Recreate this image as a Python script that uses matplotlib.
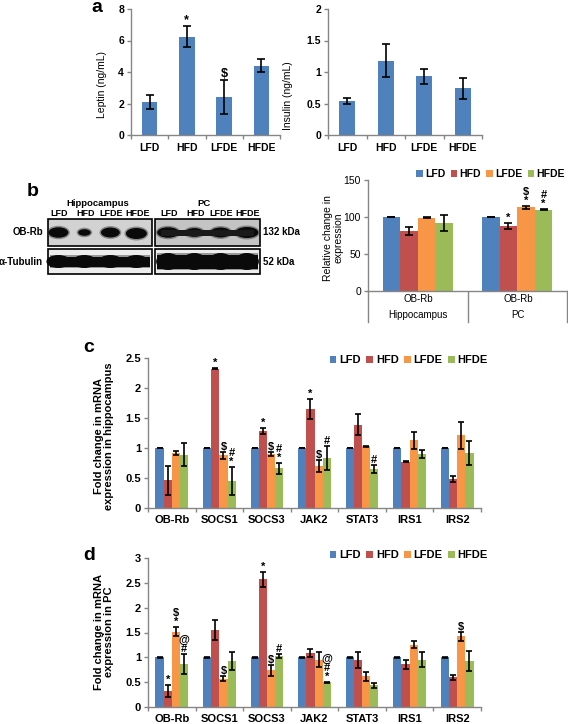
"""
Leptin / insulin levels, OB-Rb western blot and mRNA fold changes
(4-panel figure, a-d)
"""

import numpy as np
import matplotlib
matplotlib.use('Agg')
import matplotlib.pyplot as plt
from matplotlib.patches import Rectangle, Ellipse, Patch

plt.rcParams['font.family'] = ['Liberation Sans', 'DejaVu Sans']

W, H = 568, 724

groups = ['LFD', 'HFD', 'LFDE', 'HFDE']
colors = ['#4F81BD', '#C0504D', '#F79646', '#9BBB59']
axis_gray = '#868686'

# ---- panel a data
leptin = [2.1, 6.25, 2.4, 4.4]
leptin_err = [0.47, 0.68, 1.07, 0.40]
leptin_marks = ['', '*', '$', '']
insulin = [0.54, 1.18, 0.93, 0.74]
insulin_err = [0.05, 0.26, 0.115, 0.17]

# ---- panel b data (relative OB-Rb expression)
b_regions = ['Hippocampus', 'PC']
b_lfd = [100, 100]
b_lfd_err = [0.4, 0.4]
b_hfd = [81, 88]
b_hfd_err = [5, 4]
b_lfde = [99, 113]
b_lfde_err = [0.4, 2.5]
b_hfde = [92, 110]
b_hfde_err = [11, 1]
b_marks = [['', ''], ['', '*'], ['', '$\n*'], ['', '#\n*']]

# blot band strength per lane (relative size)
blot_hip_obrb = [0.95, 0.6, 0.9, 1.0]
blot_pc_obrb = [0.95, 0.8, 0.9, 1.0]

# ---- panel c data (hippocampus mRNA)
genes = ['OB-Rb', 'SOCS1', 'SOCS3', 'JAK2', 'STAT3', 'IRS1', 'IRS2']
c_lfd = [1, 1, 1, 1, 1, 1, 1]
c_lfd_err = [0.005] * 7
c_hfd = [0.46, 2.32, 1.29, 1.65, 1.39, 0.77, 0.49]
c_hfd_err = [0.24, 0.01, 0.05, 0.17, 0.18, 0.01, 0.05]
c_lfde = [0.92, 0.88, 0.90, 0.70, 1.03, 1.13, 1.21]
c_lfde_err = [0.03, 0.06, 0.03, 0.10, 0.01, 0.14, 0.23]
c_hfde = [0.89, 0.45, 0.66, 0.83, 0.65, 0.90, 0.92]
c_hfde_err = [0.19, 0.23, 0.09, 0.20, 0.07, 0.06, 0.20]
c_marks = [
    ['', '', '', '', '', '', ''],
    ['', '*', '*', '*', '', '', ''],
    ['', '$', '$', '$', '', '', ''],
    ['', '#\n*', '#\n*', '#', '#', '', ''],
]

# ---- panel d data (PC mRNA)
d_lfd = [1, 1, 1, 1, 1, 1, 1]
d_lfd_err = [0.005] * 7
d_hfd = [0.33, 1.55, 2.57, 1.08, 0.94, 0.86, 0.60]
d_hfd_err = [0.12, 0.21, 0.15, 0.08, 0.16, 0.09, 0.05]
d_lfde = [1.52, 0.57, 0.74, 0.95, 0.62, 1.25, 1.42]
d_lfde_err = [0.10, 0.05, 0.11, 0.15, 0.09, 0.07, 0.09]
d_hfde = [0.87, 0.93, 1.02, 0.50, 0.44, 0.95, 0.92]
d_hfde_err = [0.20, 0.18, 0.04, 0.01, 0.05, 0.15, 0.20]
d_marks = [
    ['', '', '', '', '', '', ''],
    ['*', '', '*', '', '', '', ''],
    ['$\n*', '$', '$', '', '', '', '$'],
    ['@\n#', '', '#', '@\n#\n*', '', '', ''],
]


fig = plt.figure(figsize=(W / 100, H / 100), dpi=100)

# full-figure canvas in pixel coordinates for blot and free text
canvas = fig.add_axes([0, 0, 1, 1], zorder=-1)
canvas.set_xlim(0, W)
canvas.set_ylim(H, 0)
canvas.axis('off')


def px_axes(x0, y0, x1, y1):
    return fig.add_axes([x0 / W, 1 - y1 / H, (x1 - x0) / W, (y1 - y0) / H])


def style_axes(ax, n, ymax, yticks, ylabels, fs=7.5):
    ax.set_xlim(0, n)
    ax.set_ylim(0, ymax)
    for s in ['top', 'right']:
        ax.spines[s].set_visible(False)
    for s in ['left', 'bottom']:
        ax.spines[s].set_color(axis_gray)
        ax.spines[s].set_linewidth(1.0)
    ax.set_yticks(yticks)
    ax.set_yticklabels(ylabels, fontsize=fs, fontweight='bold')
    ax.tick_params(axis='y', colors=axis_gray, length=3, width=1, labelcolor='black', pad=2)
    ax.set_xticks(np.arange(n + 1))
    ax.set_xticklabels([])
    ax.tick_params(axis='x', which='major', colors=axis_gray, length=3, width=1)


def put_marks(ax, xs, tops, marks, fs=8):
    for x, t, m in zip(xs, tops, marks):
        if m:
            ax.text(x, t, m, ha='center', va='bottom', fontsize=fs,
                    fontweight='bold', linespacing=0.85)


def add_legend(right_x, cy, fs=8):
    # anchored by its right edge, like the Excel legends
    handles = [Patch(facecolor=c, edgecolor='none') for c in colors]
    fig.legend(handles, groups, loc='center right', bbox_to_anchor=(right_x / W, 1 - cy / H),
               ncol=4, frameon=False, handlelength=0.6, handleheight=0.6,
               handletextpad=0.25, columnspacing=0.5, borderpad=0, borderaxespad=0,
               prop={'size': fs, 'weight': 'bold'})


# ================= panel a =================
for (x0, x1), vals, errs, ymax, ticks, tlabels, ylab, lab_xy in [
    ((131, 280), leptin, leptin_err, 8, [0, 2, 4, 6, 8], ['0', '2', '4', '6', '8'],
     'Leptin (ng/mL)', (102, 84)),
    ((328, 482), insulin, insulin_err, 2, [0, 0.5, 1, 1.5, 2], ['0', '0.5', '1', '1.5', '2'],
     'Insulin (ng/mL)', (288, 96)),
]:
    ax = px_axes(x0, 9, x1, 135)
    style_axes(ax, 4, ymax, ticks, tlabels, fs=7.5)
    xs = np.arange(4) + 0.5
    ax.bar(xs, vals, width=0.42, color='#4F81BD')
    ax.errorbar(xs, vals, yerr=errs, fmt='none', ecolor='black',
                elinewidth=1.2, capsize=3, capthick=1.2)
    ax.set_xticks(xs, minor=True)
    ax.set_xticklabels(groups, minor=True, fontsize=7.5, fontweight='bold')
    ax.tick_params(axis='x', which='minor', length=0, pad=6)
    canvas.text(lab_xy[0], lab_xy[1], ylab, rotation=90, ha='center', va='center', fontsize=7.5)
    if vals is leptin:
        put_marks(ax, xs, np.array(vals) + np.array(errs), leptin_marks, fs=9)

canvas.text(97, 8, 'a', fontsize=14, fontweight='bold', ha='center', va='center')

# ================= panel b : blot =================
canvas.text(33, 191, 'b', fontsize=14, fontweight='bold', ha='center', va='center')
canvas.text(98, 203, 'Hippocampus', fontsize=6.8, fontweight='bold', ha='center', va='center')
canvas.text(204, 203, 'PC', fontsize=6.8, fontweight='bold', ha='center', va='center')

boxes = {'hip': (48, 152), 'pc': (155, 260)}
rows = {'obrb': (219, 246), 'tub': (249, 274)}

for key, (bx0, bx1) in boxes.items():
    lanes = bx0 + (np.arange(4) + (0.4 if key == 'hip' else 0.5)) * (bx1 - bx0) / 4
    for i, g in enumerate(groups):
        canvas.text(lanes[i] + 1, 214, g, fontsize=6.5, fontweight='bold', ha='center', va='center')
    # OB-Rb row
    y0, y1 = rows['obrb']
    bg = '#d2d2d2' if key == 'hip' else '#c4c4c4'
    canvas.add_patch(Rectangle((bx0, y0), bx1 - bx0, y1 - y0, facecolor=bg,
                               edgecolor='black', linewidth=1.2))
    strength = blot_hip_obrb if key == 'hip' else blot_pc_obrb
    for i, s in enumerate(strength):
        cy = (y0 + y1) / 2 + (1 if key == 'hip' and i == 3 else 0)
        w = 21 * s if key == 'hip' else 23 * s
        h = 11 * s
        canvas.add_patch(Ellipse((lanes[i], cy), w + 3, h + 3, facecolor='#333333',
                                 edgecolor='none', alpha=0.45))
        canvas.add_patch(Ellipse((lanes[i], cy), w, h, facecolor='#0a0a0a', edgecolor='none'))
    if key == 'pc':
        canvas.add_patch(Rectangle((bx0 + 6, (y0 + y1) / 2 - 3), bx1 - bx0 - 12, 6,
                                   facecolor='#1a1a1a', edgecolor='none'))
    # tubulin row
    y0, y1 = rows['tub']
    canvas.add_patch(Rectangle((bx0, y0), bx1 - bx0, y1 - y0, facecolor='#ededed',
                               edgecolor='black', linewidth=1.2))
    bh = 10 if key == 'hip' else 14
    cy = (y0 + y1) / 2
    canvas.add_patch(Rectangle((bx0 + 2, cy - bh / 2 - 1.5), bx1 - bx0 - 4, bh + 3,
                               facecolor='#444444', edgecolor='none', alpha=0.5))
    canvas.add_patch(Rectangle((bx0 + 2, cy - bh / 2), bx1 - bx0 - 4, bh,
                               facecolor='#0a0a0a', edgecolor='none'))
    for lx in lanes:
        canvas.add_patch(Ellipse((lx, cy), 24, bh + 3, facecolor='#0a0a0a', edgecolor='none'))

canvas.text(43, 232, 'OB-Rb', fontsize=7, fontweight='bold', ha='right', va='center')
canvas.text(43, 262, 'α-Tubulin', fontsize=7, fontweight='bold', ha='right', va='center')
canvas.text(263, 232, '132 kDa', fontsize=7, fontweight='bold', ha='left', va='center')
canvas.text(263, 262, '52 kDa', fontsize=7, fontweight='bold', ha='left', va='center')

# ================= panel b : bar chart =================
axb = px_axes(368, 180, 567, 291)
style_axes(axb, 2, 150, [0, 50, 100, 150], ['0', '50', '100', '150'], fs=7.5)
axb.tick_params(axis='x', which='major', length=0)
axb.set_yticklabels(['0', '50', '100', '150'], fontweight='normal')
wb = 0.177
b_series = [(b_lfd, b_lfd_err), (b_hfd, b_hfd_err), (b_lfde, b_lfde_err), (b_hfde, b_hfde_err)]
for i, (vals, errs) in enumerate(b_series):
    xs = np.arange(2) + 0.5 + (i - 1.5) * wb
    axb.bar(xs, vals, width=wb, color=colors[i])
    axb.errorbar(xs, vals, yerr=errs, fmt='none', ecolor='black',
                 elinewidth=1.2, capsize=3, capthick=1.2)
    put_marks(axb, xs, np.array(vals) + np.array(errs), b_marks[i], fs=8)
# two-level category axis
for xp in [368, 468, 567]:
    canvas.plot([xp, xp], [291, 322], color=axis_gray, lw=1)
for k, reg in enumerate(b_regions):
    cx = 418 + 100 * k
    canvas.text(cx, 299, 'OB-Rb', fontsize=7, ha='center', va='center')
    canvas.text(cx, 315, reg, fontsize=7, ha='center', va='center')
canvas.text(333, 238, 'Relative change in\nexpression', rotation=90, fontsize=7.5,
            ha='center', va='center', linespacing=1.0)
add_legend(565, 174, fs=7.5)


# ================= panels c, d =================
def mrna_panel(y0, y1, ymax, ticks, series, marks, ylab, ylab_y):
    ax = px_axes(148, y0, 481, y1)
    style_axes(ax, 7, ymax, ticks, [f'{t:g}' for t in ticks], fs=8)
    w = 0.172
    for i, (vals, errs) in enumerate(series):
        xs = np.arange(7) + 0.5 + (i - 1.5) * w
        ax.bar(xs, vals, width=w, color=colors[i])
        ax.errorbar(xs, vals, yerr=errs, fmt='none', ecolor='black',
                    elinewidth=1.2, capsize=2.5, capthick=1.2)
        put_marks(ax, xs, np.array(vals) + np.array(errs), marks[i], fs=8)
    cxs = np.arange(7) + 0.5
    ax.set_xticks(cxs, minor=True)
    ax.set_xticklabels(genes, minor=True, fontsize=8, fontweight='bold')
    ax.tick_params(axis='x', which='minor', length=0, pad=5)
    canvas.text(104, ylab_y, ylab, rotation=90, fontsize=8, fontweight='bold',
                ha='center', va='center', linespacing=1.0)
    return ax


mrna_panel(358, 508, 2.5, [0, 0.5, 1, 1.5, 2, 2.5],
           [(c_lfd, c_lfd_err), (c_hfd, c_hfd_err), (c_lfde, c_lfde_err), (c_hfde, c_hfde_err)],
           c_marks, 'Fold change in mRNA\nexpression in hippocampus', 436)
canvas.text(89, 348, 'c', fontsize=14, fontweight='bold', ha='center', va='center')
add_legend(488, 360, fs=8)

mrna_panel(558, 707, 3, [0, 0.5, 1, 1.5, 2, 2.5, 3],
           [(d_lfd, d_lfd_err), (d_hfd, d_hfd_err), (d_lfde, d_lfde_err), (d_hfde, d_hfde_err)],
           d_marks, 'Fold change in mRNA\nexpression in PC', 632)
canvas.text(89, 556, 'd', fontsize=14, fontweight='bold', ha='center', va='center')
add_legend(488, 555, fs=8)

fig.savefig('out.png', dpi=100)
print('Saved: out.png')
